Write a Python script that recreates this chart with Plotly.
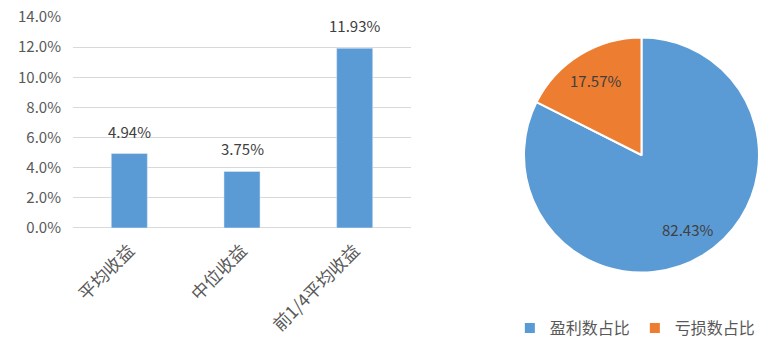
import math
import plotly.graph_objects as go

categories = ["平均收益", "中位收益", "前1/4平均收益"]
returns = [0.0494, 0.0375, 0.1193]
pie_labels = ["盈利数占比", "亏损数占比"]
pie_values = [82.43, 17.57]
y_ticks = [0, 0.02, 0.04, 0.06, 0.08, 0.10, 0.12, 0.14]

BLUE = "#5B9BD5"
ORANGE = "#ED7D31"
FONT = "Noto Sans CJK SC, Noto Sans, sans-serif"
W, H = 769, 354
PIE_DOM_X = [0.6814, 0.987]
PIE_DOM_Y = [0.2302, 0.894]

fig = go.Figure()
fig.add_trace(go.Bar(
    x=categories, y=returns, marker_color=BLUE, width=0.32,
    showlegend=False, hoverinfo="skip", xaxis="x", yaxis="y",
))
for c, v in zip(categories, returns):
    fig.add_annotation(x=c, y=v, xref="x", yref="y", text=f"{v*100:.2f}%",
                       showarrow=False, yanchor="bottom", yshift=10,
                       font=dict(size=15, color="#404040", family=FONT))

fig.add_trace(go.Pie(
    labels=pie_labels, values=pie_values, sort=False, direction="clockwise",
    rotation=0, marker=dict(colors=[BLUE, ORANGE], line=dict(color="white", width=2)),
    textinfo="none",
    domain=dict(x=PIE_DOM_X, y=PIE_DOM_Y),
    hoverinfo="skip", showlegend=True,
))

# pie labels placed at each slice's mid-angle
cx = (PIE_DOM_X[0] + PIE_DOM_X[1]) / 2
cy = (PIE_DOM_Y[0] + PIE_DOM_Y[1]) / 2
r_px = min((PIE_DOM_X[1] - PIE_DOM_X[0]) * W, (PIE_DOM_Y[1] - PIE_DOM_Y[0]) * H) / 2
total = sum(pie_values)
cum = 0
for v in pie_values:
    mid = (cum + v / 2) / total * 2 * math.pi
    cum += v
    rr = 0.74 * r_px
    fig.add_annotation(x=cx + rr * math.sin(mid) / W, y=cy + rr * math.cos(mid) / H,
                       xref="paper", yref="paper", xanchor="center", yanchor="middle",
                       text=f"{v:.2f}%", showarrow=False,
                       font=dict(size=15, color="#404040", family=FONT))

fig.update_layout(
    width=W, height=H, margin=dict(l=0, r=0, t=0, b=0),
    paper_bgcolor="white", plot_bgcolor="white",
    font=dict(family=FONT, color="#595959"),
    xaxis=dict(domain=[0.0949, 0.5345], showgrid=False, showline=False, ticks="",
               tickangle=-45, tickfont=dict(size=17.5, color="#595959"), automargin=False,
               ticklabelstandoff=8),
    yaxis=dict(domain=[0.356, 0.952], range=[0, 0.14], tickvals=y_ticks,
               tickformat=".1%", gridcolor="#D9D9D9", gridwidth=1.3, zeroline=True,
               zerolinecolor="#D9D9D9", zerolinewidth=1.3, ticks="", ticklen=0,
               ticklabelstandoff=11, automargin=False,
               tickfont=dict(size=15, color="#595959"), showline=False),
    legend=dict(orientation="h", x=0.663, xanchor="left", y=0.073, yanchor="middle",
                font=dict(size=16, color="#595959", family=FONT), itemwidth=30,
                entrywidth=80, entrywidthmode="pixels",
                bgcolor="rgba(0,0,0,0)"),
    bargap=0.68,
)

fig.write_html("out.html")
